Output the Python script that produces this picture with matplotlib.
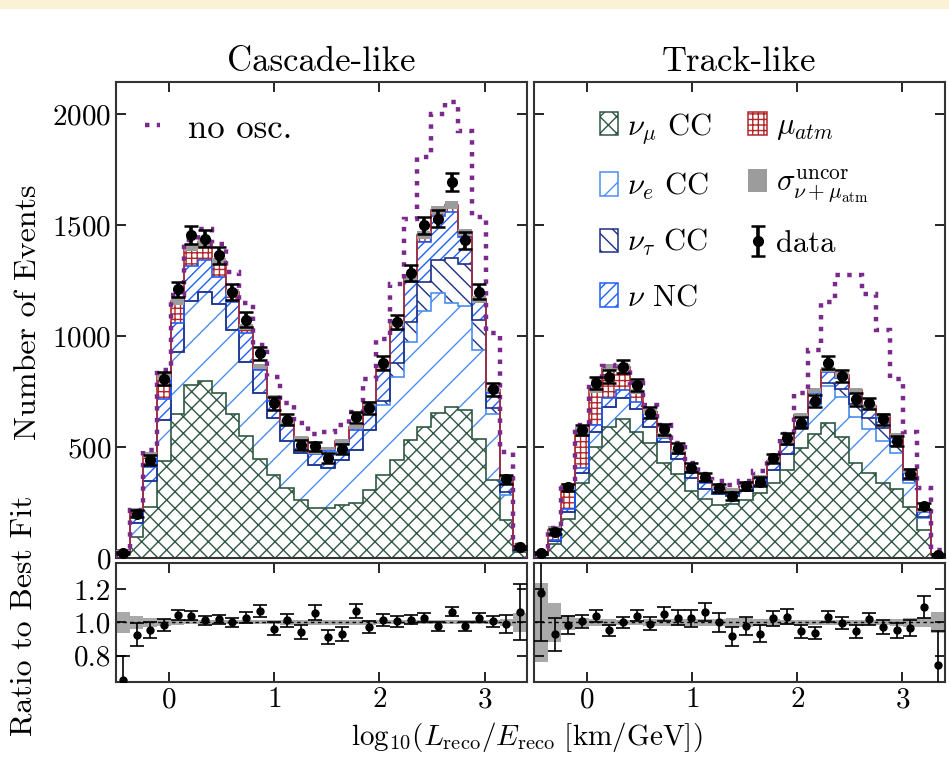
import numpy as np
import matplotlib.pyplot as plt
from matplotlib.patches import Patch, Rectangle
from matplotlib.lines import Line2D

plt.rcParams['font.family'] = 'serif'
plt.rcParams['font.serif'] = ['cmr10']
plt.rcParams['mathtext.fontset'] = 'cm'
plt.rcParams['axes.formatter.use_mathtext'] = True
plt.rcParams['hatch.linewidth'] = 1.0

edges = np.linspace(-0.5, 3.4, 31)
centers = 0.5 * (edges[1:] + edges[:-1])

# Cascade-like
casc_numu = [22, 96, 228, 438, 647, 779, 797, 742, 647, 550, 444, 374, 314, 261, 227,
             227, 239, 249, 306, 374, 441, 532, 592, 655, 680, 667, 535, 351, 171, 25]
casc_nue = [7, 60, 118, 183, 282, 378, 400, 402, 380, 334, 298, 255, 214, 213, 190,
            177, 202, 240, 271, 315, 376, 442, 520, 540, 470, 470, 402, 300, 115, 10]
casc_nutau = [0, 0, 0, 0, 0, 0, 0, 0, 0, 0, 0, 0, 0, 0, 0,
              0, 0, 0, 0, 20, 60, 90, 130, 150, 200, 190, 135, 25, 10, 2]
casc_nc = [4, 35, 64, 94, 128, 160, 145, 123, 128, 128, 105, 80, 75, 58, 50,
           80, 75, 90, 105, 140, 150, 180, 184, 195, 210, 120, 83, 68, 40, 5]
casc_mu = [2, 25, 55, 105, 100, 82, 80, 70, 45, 30, 15, 15, 12, 8, 8,
           10, 12, 12, 15, 17, 30, 20, 30, 27, 30, 20, 10, 11, 21, 3]
casc_noosc = [30, 215, 486, 847, 1185, 1431, 1483, 1416, 1290, 1147, 960, 817, 697, 610, 559,
              569, 599, 659, 809, 989, 1237, 1528, 1806, 2001, 2053, 1926, 1536, 1012, 479, 58]
casc_ratio = [0.655, 0.926, 0.952, 0.986, 1.046, 1.04, 1.012, 1.02, 1.0, 1.03, 1.07, 0.962, 1.012, 0.942, 1.06,
              0.912, 0.93, 1.072, 0.972, 1.016, 1.006, 1.016, 1.03, 0.976, 1.066, 0.976, 1.03, 1.006, 0.992, 1.064]
casc_rerr = [0.14, 0.07, 0.048, 0.035, 0.03, 0.028, 0.027, 0.028, 0.03, 0.032, 0.035, 0.038, 0.04, 0.043, 0.045,
             0.045, 0.045, 0.042, 0.038, 0.035, 0.031, 0.028, 0.026, 0.025, 0.025, 0.026, 0.03, 0.036, 0.053, 0.17]
casc_sigma = [0.065, 0.04, 0.03, 0.02, 0.015, 0.012, 0.012, 0.012, 0.012, 0.012, 0.012, 0.012, 0.015, 0.015, 0.015,
              0.015, 0.015, 0.015, 0.015, 0.012, 0.012, 0.012, 0.012, 0.012, 0.012, 0.012, 0.012, 0.012, 0.02, 0.055]

# Track-like
trk_numu = [12, 63, 174, 339, 501, 592, 625, 570, 517, 426, 380, 300, 264, 239, 243,
            261, 291, 336, 396, 494, 559, 607, 547, 426, 381, 336, 313, 230, 126, 12]
trk_nue = [2, 12, 35, 45, 68, 90, 94, 100, 75, 95, 65, 60, 45, 50, 35,
           42, 40, 60, 75, 90, 130, 170, 180, 210, 200, 190, 160, 110, 55, 4]
trk_nutau = [0, 0, 0, 0, 0, 0, 0, 0, 0, 0, 0, 0, 0, 0, 0,
             0, 0, 0, 0, 5, 10, 10, 35, 60, 50, 60, 30, 10, 3, 0]
trk_nc = [1, 8, 12, 20, 30, 37, 38, 35, 37, 20, 25, 28, 27, 20, 20,
          20, 30, 34, 40, 45, 45, 50, 50, 48, 42, 45, 40, 35, 22, 2]
trk_mu = [3, 45, 102, 169, 158, 139, 105, 44, 31, 10, 10, 10, 9, 8, 9,
          8, 8, 8, 9, 11, 12, 12, 12, 12, 10, 12, 10, 9, 8, 1]
trk_noosc = [22, 135, 330, 600, 800, 865, 870, 790, 690, 600, 520, 430, 380, 345, 330,
             345, 390, 460, 560, 742, 937, 1155, 1275, 1275, 1192, 1027, 809, 569, 314, 36]
trk_ratio = [1.18, 0.93, 0.984, 1.006, 1.04, 0.952, 1.0, 1.042, 0.992, 1.052, 1.03, 1.024, 1.062, 1.0, 0.916,
             0.98, 0.932, 1.024, 1.036, 0.946, 0.938, 1.036, 0.996, 0.946, 1.02, 0.972, 0.952, 0.966, 1.092, 0.74]
trk_rerr = [0.29, 0.1, 0.055, 0.042, 0.036, 0.034, 0.034, 0.036, 0.039, 0.043, 0.046, 0.05, 0.054, 0.056, 0.057,
            0.055, 0.052, 0.048, 0.044, 0.04, 0.036, 0.034, 0.035, 0.037, 0.038, 0.04, 0.043, 0.05, 0.068, 0.21]
trk_sigma = [0.24, 0.12, 0.045, 0.03, 0.02, 0.02, 0.015, 0.015, 0.02, 0.02, 0.02, 0.02, 0.02, 0.02, 0.025,
             0.025, 0.02, 0.02, 0.015, 0.015, 0.015, 0.015, 0.015, 0.015, 0.015, 0.015, 0.02, 0.025, 0.03, 0.063]

names = [r'$\nu_\mu$ CC', r'$\nu_e$ CC', r'$\nu_\tau$ CC', r'$\nu$ NC', r'$\mu_{atm}$']
colors = ['#2f5743', '#4a8ef0', '#1c2f84', '#1f5ef8', '#b2282a']
hatches = ['xx', '/', '\\\\', '///', '+++']
noosc_color = '#7b2a8c'
band_color = '#9c9c9c'

fig = plt.figure(figsize=(9.49, 7.68), dpi=100)
fig.patches.append(Rectangle((0, 1 - 8 / 768), 1, 8 / 768, transform=fig.transFigure,
                             color='#fbf2d6', zorder=0))

axL = fig.add_axes([0.1222, 0.2734, 0.4331, 0.6198])
rL = fig.add_axes([0.1222, 0.1120, 0.4331, 0.1550])
axR = fig.add_axes([0.5627, 0.2734, 0.4326, 0.6198])
rR = fig.add_axes([0.5627, 0.1120, 0.4326, 0.1550])


def draw(ax, rax, comps, noosc, ratio, rerr, sigma):
    lower = np.zeros(len(centers))
    for vals, h, c in zip(comps, hatches, colors):
        upper = lower + np.array(vals)
        ax.fill_between(edges, np.append(lower, lower[-1]), np.append(upper, upper[-1]),
                        step='post', facecolor='white', edgecolor=c, hatch=h, lw=0, zorder=2)
        ax.stairs(upper, edges, baseline=None, color=c, lw=1.2, zorder=2.5)
        lower = upper
    total = lower
    sigma = np.array(sigma)
    ratio = np.array(ratio)
    rerr = np.array(rerr)
    ax.bar(centers, 2 * sigma * total, bottom=total * (1 - sigma), width=0.13,
           color=band_color, lw=0, zorder=3)
    ax.stairs(noosc, edges, color=noosc_color, ls=':', lw=3.2, zorder=4)
    eb = ax.errorbar(centers, ratio * total, yerr=rerr * total, fmt='o', color='k', ms=7,
                     elinewidth=2.6, capsize=5, capthick=1.8, zorder=5)

    rax.bar(centers, 2 * sigma, bottom=1 - sigma, width=0.13, color='#a9a9a9', lw=0, zorder=1)
    rax.axhline(1.0, color='k', ls=(0, (2.5, 2.5)), lw=1.0, zorder=2)
    rax.errorbar(centers, ratio, yerr=rerr, fmt='o', color='k', ms=5,
                 elinewidth=1.2, capsize=5, capthick=1.2, zorder=3)

    for a in (ax, rax):
        a.set_xlim(-0.5, 3.4)
        a.set_xticks([0, 1, 2, 3])
        a.tick_params(direction='in', length=7, width=1.2, top=True, right=True, labelsize=21)
        for s in a.spines.values():
            s.set_linewidth(1.5)
            s.set_color('#333333')
    ax.set_ylim(0, 2145)
    ax.set_yticks([0, 500, 1000, 1500, 2000])
    ax.tick_params(labelbottom=False)
    rax.set_ylim(0.64, 1.36)
    rax.set_yticks([0.8, 1.0, 1.2])
    return eb


ebL = draw(axL, rL, [casc_numu, casc_nue, casc_nutau, casc_nc, casc_mu],
           casc_noosc, casc_ratio, casc_rerr, casc_sigma)
ebR = draw(axR, rR, [trk_numu, trk_nue, trk_nutau, trk_nc, trk_mu],
           trk_noosc, trk_ratio, trk_rerr, trk_sigma)

axR.tick_params(labelleft=False)
rR.tick_params(labelleft=False)
rL.set_yticklabels(['0.8', '1.0', '1.2'])

axL.set_title('Cascade-like', fontsize=25, pad=8)
axR.set_title('Track-like', fontsize=25, pad=8)

fig.text(28 / 949, 1 - 312 / 768, 'Number of Events', rotation=90, fontsize=23,
         ha='center', va='center')
fig.text(24 / 949, 1 - 616 / 768, 'Ratio to Best Fit', rotation=90, fontsize=23,
         ha='center', va='center')
fig.text(527 / 949, 1 - 737 / 768,
         r'$\mathrm{log}_{10}(L_{\rm reco}/E_{\rm reco}\ [{\rm km/GeV}])$', fontsize=21,
         ha='center', va='center')

# legends
axL.legend([Line2D([], [], color=noosc_color, ls=':', lw=3.2)], ['no osc.'],
           loc='upper left', bbox_to_anchor=(0.07, 0.935), frameon=False, fontsize=25,
           handlelength=0.45, handletextpad=0.8, borderpad=0, borderaxespad=0)

handles = [Patch(facecolor='white', edgecolor=c, hatch=h, lw=1.1) for c, h in zip(colors, hatches)]
handles.append(Patch(facecolor=band_color, edgecolor='none'))
handles.append(ebR)
labels = names + [r'$\sigma^{\rm uncor}_{\nu+\mu_{\rm atm}}$', 'data']
axR.legend(handles, labels, ncol=2,
           loc='upper left', bbox_to_anchor=(0.16, 0.94), frameon=False, fontsize=22,
           handlelength=0.6, handleheight=0.8, handletextpad=0.3, columnspacing=1.2,
           labelspacing=0.82, borderpad=0, borderaxespad=0)

fig.savefig('out.png', dpi=100)
